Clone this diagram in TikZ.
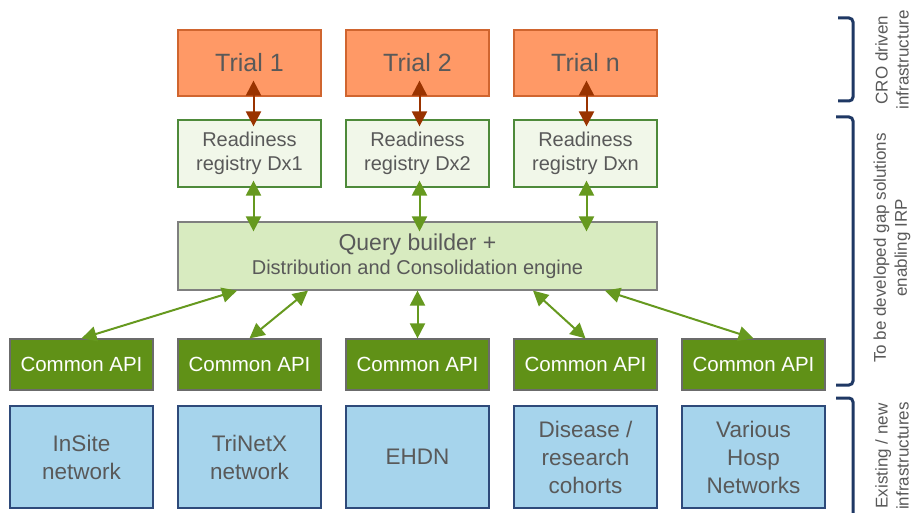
\documentclass[tikz,border=0pt]{standalone}
\usepackage{fontspec}
\setmainfont{Liberation Sans}
\usepackage{tikz}
\usetikzlibrary{arrows.meta}

\definecolor{textgray}{HTML}{595959}
\definecolor{trialfill}{HTML}{FF9966}
\definecolor{trialdraw}{HTML}{D0652F}
\definecolor{regfill}{HTML}{F1F7E9}
\definecolor{regdraw}{HTML}{4E8A3A}
\definecolor{enginefill}{HTML}{D8EBC0}
\definecolor{enginedraw}{HTML}{7F7F7F}
\definecolor{apifill}{HTML}{609117}
\definecolor{apidraw}{HTML}{6B6B6B}
\definecolor{srcfill}{HTML}{A6D4EC}
\definecolor{srcdraw}{HTML}{2E4A7A}
\definecolor{linkbrown}{HTML}{993300}
\definecolor{linkgreen}{HTML}{66991F}
\definecolor{bracenavy}{HTML}{1F3864}

\begin{document}
\begin{tikzpicture}[x=1pt,y=1pt,>={Triangle[width=15pt,length=15pt]},node distance=168pt,
  box/.style={rectangle,draw,line width=1.2pt,inner sep=0pt,align=center,text=textgray},
  trial box/.style={box,draw=trialdraw,fill=trialfill,minimum width=143pt,minimum height=66pt,font=\fontsize{25}{30}\selectfont},
  registry box/.style={box,draw=regdraw,fill=regfill,minimum width=143pt,minimum height=67pt,font=\fontsize{20}{24}\selectfont},
  engine box/.style={box,draw=enginedraw,fill=enginefill,minimum width=479pt,minimum height=68pt},
  api box/.style={box,draw=apidraw,fill=apifill,text=white,minimum width=143pt,minimum height=51pt,font=\fontsize{20.5}{24}\selectfont},
  source box/.style={box,draw=srcdraw,fill=srcfill,minimum width=143pt,minimum height=102pt,font=\fontsize{22.5}{28}\selectfont},
  side label/.style={rotate=90,align=center,text=textgray,font=\fontsize{17}{21}\selectfont},
  brown link/.style={<->,draw=linkbrown,line width=2pt,shorten <=-16pt,shorten >=-7pt},
  green link/.style={<->,draw=linkgreen,line width=2pt},
  brace/.style={draw=bracenavy,line width=3pt,rounded corners=4pt}]

  \useasboundingbox (0,0) rectangle (912,-513);

  % trials
  \node[trial box] (t1) at (249.5,-63) {Trial 1};
  \node[trial box] (t2) [right of=t1] {Trial 2};
  \node[trial box] (t3) [right of=t2] {Trial n};

  % readiness registries
  \node[registry box] (r1) [below of=t1, node distance=90.5pt] {Readiness\\registry Dx1};
  \node[registry box] (r2) [below of=t2, node distance=90.5pt] {Readiness\\registry Dx2};
  \node[registry box] (r3) [below of=t3, node distance=90.5pt] {Readiness\\registry Dxn};

  % engine
  \node[engine box] (q) [below of=r2, node distance=102.5pt]
    {\fontsize{23}{27}\selectfont Query builder +\\[4pt]
     \fontsize{20}{24}\selectfont Distribution and Consolidation engine};

  % common APIs
  \node[api box] (a3) [below of=q, node distance=108.5pt] {Common API};
  \node[api box] (a2) [left of=a3] {Common API};
  \node[api box] (a1) [left of=a2] {Common API};
  \node[api box] (a4) [right of=a3] {Common API};
  \node[api box] (a5) [right of=a4] {Common API};

  % data sources
  \node[source box] (s1) [below of=a1, node distance=92.5pt] {InSite\\network};
  \node[source box] (s2) [below of=a2, node distance=92.5pt] {TriNetX\\network};
  \node[source box] (s3) [below of=a3, node distance=92.5pt] {EHDN};
  \node[source box] (s4) [below of=a4, node distance=92.5pt] {Disease /\\research\\cohorts};
  \node[source box] (s5) [below of=a5, node distance=92.5pt] {Various\\Hosp\\Networks};

  \path
    ([xshift=4pt]t1.south) edge[brown link] ([xshift=4pt]r1.north)
    ([xshift=2pt]t2.south) edge[brown link] ([xshift=2pt]r2.north)
    ([xshift=1pt]t3.south) edge[brown link] ([xshift=1pt]r3.north);

  \path[every edge/.append style={shorten <=-7pt,shorten >=-10pt}]
    ([xshift=4pt]r1.south) edge[green link] ([xshift=4pt]r1.south |- q.north)
    ([xshift=2pt]r2.south) edge[green link] ([xshift=2pt]r2.south |- q.north)
    ([xshift=1pt]r3.south) edge[green link] ([xshift=1pt]r3.south |- q.north);

  \path
    (a1.north) edge[green link] ([xshift=-180.5pt]q.south)
    (a2.north) edge[green link] ([xshift=-109.5pt]q.south)
    (a3.north) edge[green link] (q.south)
    (a4.north) edge[green link] ([xshift=115.5pt]q.south)
    (a5.north) edge[green link] ([xshift=187.5pt]q.south);

  % brackets on the right
  \draw[brace] (838,-18) -- (853,-18) -- (853,-101) -- (838,-101);
  \draw[brace] (836,-117) -- (853,-117) -- (853,-385) -- (836,-385);
  \draw[brace] (836,-398) -- (853,-398) -- (853,-530);

  \node[side label] (lcro) at (892,-60) {CRO driven\\infrastructure};
  \node[side label] (lgap) at (892,-248) {To be developed gap solutions\\enabling IRP};
  \node[side label] (lnew) at (892,-456) {Existing / new\\infrastructures};

\end{tikzpicture}
\end{document}
